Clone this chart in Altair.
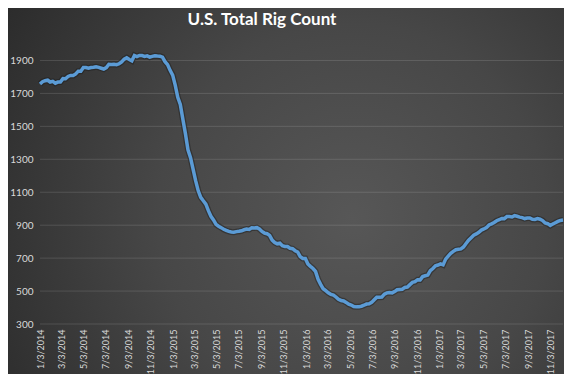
import altair as alt
import pandas as pd

# Weekly U.S. total rig count, first Friday 2014-01-03
rigs_2014 = [1757, 1771, 1777, 1780, 1769, 1773, 1762, 1769, 1769, 1790, 1789, 1803, 1809,
             1809, 1818, 1835, 1835, 1857, 1857, 1853, 1857, 1859, 1862, 1858, 1853, 1848,
             1857, 1877, 1876, 1877, 1874, 1880, 1891, 1908, 1916, 1906, 1898, 1930, 1923,
             1930, 1930, 1925, 1928, 1920, 1925, 1929, 1927, 1926, 1920, 1893, 1875, 1840]
rigs_2015 = [1811, 1750, 1676, 1633, 1543, 1456, 1358, 1310, 1240, 1170, 1110, 1069, 1048,
             1028, 988, 954, 932, 905, 894, 885, 875, 868, 862, 859, 857, 861,
             863, 866, 872, 876, 874, 884, 883, 885, 877, 862, 852, 848, 838,
             809, 795, 787, 791, 775, 771, 770, 760, 757, 745, 737, 709, 698]
rigs_2016 = [698, 664, 650, 637, 619, 571, 541, 514, 502, 489, 480, 476, 464,
             450, 443, 440, 431, 420, 415, 406, 404, 404, 408, 414, 421, 423,
             431, 447, 462, 463, 464, 481, 489, 491, 489, 497, 508, 510, 511, 522,
             524, 539, 553, 557, 569, 568, 588, 593, 597, 624, 637, 653, 658]
rigs_2017 = [665, 659, 694, 712, 729, 741, 751, 754, 756, 768, 789, 809, 824,
             839, 847, 857, 870, 877, 885, 901, 908, 916, 927, 933, 941, 940,
             952, 952, 950, 958, 954, 949, 946, 940, 943, 944, 936, 935, 940,
             936, 928, 913, 909, 898, 907, 915, 923, 929, 931]

values = rigs_2014 + rigs_2015 + rigs_2016 + rigs_2017
dates = pd.date_range("2014-01-03", periods=len(values), freq="7D").strftime("%Y-%m-%d").tolist()

title_text = ["U.S. Total Rig Count"]
y_ticks = [300, 500, 700, 900, 1100, 1300, 1500, 1700, 1900]
x_tick_dates = [(2014, 1), (2014, 3), (2014, 5), (2014, 7), (2014, 9), (2014, 11),
                (2015, 1), (2015, 3), (2015, 5), (2015, 7), (2015, 9), (2015, 11),
                (2016, 1), (2016, 3), (2016, 5), (2016, 7), (2016, 9), (2016, 11),
                (2017, 1), (2017, 3), (2017, 5), (2017, 7), (2017, 9), (2017, 11)]

df = pd.DataFrame({"date": dates, "rigs": values})
grid_df = pd.DataFrame({"v": y_ticks})
title_df = pd.DataFrame({"t": title_text})

FONT = "Lato"
W, H = 523, 280

x_scale = alt.Scale(type="utc", domain=[alt.DateTime(year=2014, month=1, date=3, utc=True),
                                        alt.DateTime(year=2017, month=12, date=8, utc=True)])
y_scale = alt.Scale(domain=[300, 2000], nice=False, zero=False)

x_axis = alt.Axis(
    values=[alt.DateTime(year=y, month=m, date=3, utc=True) for y, m in x_tick_dates],
    labelExpr="utcFormat(datum.value, '%-m/%-d/%Y')",
    labelAngle=-90, labelAlign="right",
    labelBaseline="middle", labelPadding=5, ticks=False, domain=False, grid=False,
    labelColor="#d9d9d9", labelFont=FONT, labelFontSize=9, title=None, labelOverlap=False,
    zindex=2,
)
y_axis = alt.Axis(
    values=y_ticks, format="d", ticks=False, domain=False, grid=False, labelPadding=7,
    labelColor="#d9d9d9", labelFont=FONT, labelFontSize=10, title=None, zindex=2,
)

bg_gradient = alt.RadialGradient(
    gradient="radial",
    x1=0.62, y1=0.55, r1=0.0,
    x2=0.62, y2=0.55, r2=0.78,
    stops=[alt.GradientStop(color="#575757", offset=0),
           alt.GradientStop(color="#474747", offset=0.45),
           alt.GradientStop(color="#282828", offset=1)],
)

background = alt.Chart(pd.DataFrame({"a": [0]})).mark_rect(
    fill=bg_gradient, clip=False
).encode(
    x=alt.value(-32), x2=alt.value(W + 1), y=alt.value(-36), y2=alt.value(H + 50)
)

title = alt.Chart(title_df).mark_text(
    color="#ffffff", font=FONT, fontSize=17, fontWeight="bold",
    align="center", baseline="alphabetic", clip=False,
).encode(
    text="t:N", x=alt.value(222), y=alt.value(-19)
)

grid = alt.Chart(grid_df).mark_rule(color="#ffffff", opacity=0.13, strokeWidth=1).encode(
    y=alt.Y("v:Q", scale=y_scale, axis=y_axis)
)

shadow = alt.Chart(df).mark_line(color="#1a1a1a", strokeWidth=6, opacity=0.45).encode(
    x=alt.X("date:T", scale=x_scale, axis=x_axis),
    y=alt.Y("rigs:Q", scale=y_scale, axis=y_axis),
)

line = alt.Chart(df).mark_line(color="#5b9bd5", strokeWidth=3.5).encode(
    x=alt.X("date:T", scale=x_scale, axis=x_axis),
    y=alt.Y("rigs:Q", scale=y_scale, axis=y_axis),
)

chart = alt.layer(background, grid, shadow, line, title).properties(
    width=W, height=H,
    autosize=alt.AutoSizeParams(type="none"),
    padding={"left": 32, "top": 36, "right": 1, "bottom": 50},
    background="#303030",
).configure_view(stroke=None)

chart.save("out.html", embed_options={"renderer": "svg", "actions": False})
